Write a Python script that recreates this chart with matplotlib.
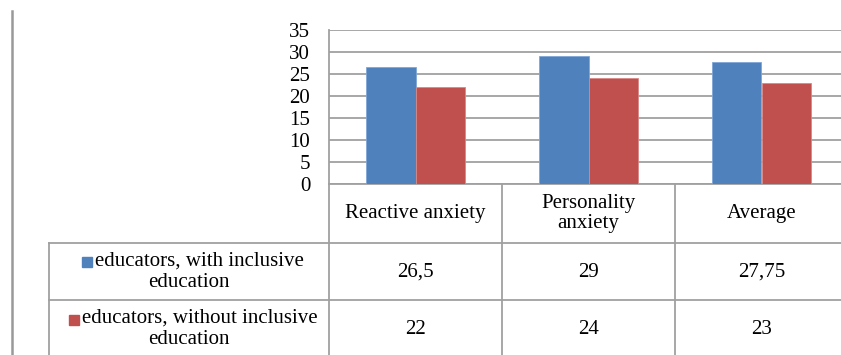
import matplotlib
matplotlib.use("Agg")
import matplotlib.pyplot as plt
from matplotlib.patches import Rectangle
from matplotlib.transforms import blended_transform_factory
import numpy as np

# Data
categories = ["Reactive anxiety", "Personality\nanxiety", "Average"]
series_names = ["educators, with inclusive\neducation",
                "educators, without inclusive\neducation"]
with_inclusive = [26.5, 29, 27.75]
without_inclusive = [22, 24, 23]
y_ticks = [0, 5, 10, 15, 20, 25, 30, 35]

colors = ["#4F81BD", "#C0504D"]
grid_color = "#A0A0A0"
font = "Liberation Serif"
fs = 15

W, H = 841, 355
fig = plt.figure(figsize=(W / 100, H / 100), dpi=100)
plt.rcParams["font.family"] = [font, "DejaVu Serif"]

# Chart area (pixel geometry converted to figure fractions)
px_left, px_right, px_top, px_bottom = 329, 848, 30, 184
ax = fig.add_axes([px_left / W, 1 - px_bottom / H,
                   (px_right - px_left) / W, (px_bottom - px_top) / H])
x = np.arange(len(categories))
bw = 0.285
ax.bar(x - bw / 2, with_inclusive, bw, color=colors[0], edgecolor="#7FA6D6",
       linewidth=0.6, zorder=3)
ax.bar(x + bw / 2, without_inclusive, bw, color=colors[1], edgecolor="#D98886",
       linewidth=0.6, zorder=3)
ax.set_xlim(-0.5, len(categories) - 0.5)
ax.set_ylim(0, 35)
ax.set_yticks(y_ticks)
ax.set_yticklabels([str(t) for t in y_ticks], fontsize=fs, family=font)
ax.tick_params(axis="y", length=0, pad=13.5)
ax.set_xticks([])
ax.yaxis.grid(True, color=grid_color, linewidth=1.3, zorder=0)
ax.set_axisbelow(True)
for s in ["top", "right"]:
    ax.spines[s].set_visible(False)
for s in ["left", "bottom"]:
    ax.spines[s].set_color(grid_color)
    ax.spines[s].set_linewidth(1.3)

# Data table below the chart: x follows the category axis, y in pixel rows
tab = fig.add_axes([0, 0, 1, 1], zorder=-1)
tab.set_xlim(0, W)
tab.set_ylim(H, 0)
tab.axis("off")
tr = blended_transform_factory(ax.transData, tab.transData)

row_edges = [184, 243, 300, 358]
legend_left = -2.118
col_edges = np.arange(len(categories) + 1) - 0.5
line_kw = dict(color=grid_color, linewidth=1.3, transform=tr, clip_on=False)

# horizontal rules
for yv in row_edges[1:3]:
    tab.plot([legend_left, col_edges[-1]], [yv, yv], **line_kw)
# vertical rules
for xv in col_edges:
    tab.plot([xv, xv], [row_edges[0], H + 5], **line_kw)
tab.plot([legend_left, legend_left], [row_edges[1], H + 5], **line_kw)

# page margin rule on the far left
tab.plot([12.5, 12.5], [11, H + 5], color="#999999", linewidth=1.8)

# header cells
for i, cat in enumerate(categories):
    yc = (row_edges[0] + row_edges[1]) / 2
    tab.text(x[i], yc, cat, transform=tr, ha="center", va="center",
             fontsize=fs, family=font, linespacing=1.1)

def fmt(v):
    return f"{v:g}".replace(".", ",")

# value rows with legend keys
legend_cx = (legend_left + col_edges[0]) / 2
texts = []
for r, (name, vals, col) in enumerate(zip(series_names,
                                            [with_inclusive, without_inclusive],
                                            colors)):
    yc = (row_edges[r + 1] + row_edges[r + 2]) / 2
    for i, v in enumerate(vals):
        tab.text(x[i], yc + 1, fmt(v), transform=tr, ha="center", va="center",
                 fontsize=fs, family=font)
    t = tab.text(legend_cx, yc, "\u2003" + name, transform=tr, ha="center",
                 va="center", multialignment="center", fontsize=fs,
                 family=font, linespacing=1.15)
    texts.append((t, col))

# colour keys placed at the start of each legend label
fig.canvas.draw()
renderer = fig.canvas.get_renderer()
for t, col in texts:
    bb = t.get_window_extent(renderer)
    x0 = bb.x0 + 8
    ytop_px = H - bb.y1  # top of text block in pixel rows
    tab.add_patch(Rectangle((x0, ytop_px + 6), 10, 10, color=col,
                            transform=tab.transData, clip_on=False))

fig.savefig("out.png", dpi=100, facecolor="white")
